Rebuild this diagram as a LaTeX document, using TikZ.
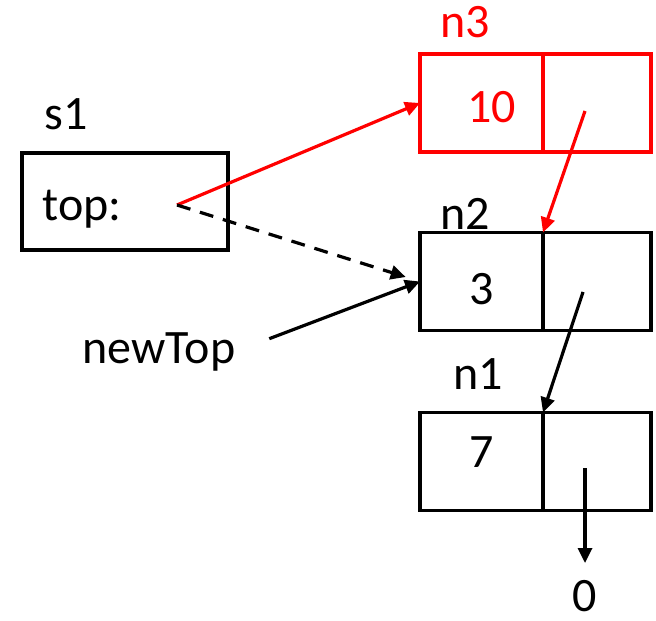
\documentclass[tikz,border=0pt]{standalone}
\usepackage{fontspec}
\setmainfont{Carlito}
\usetikzlibrary{arrows.meta, positioning, calc}

\tikzset{
  cell/.style={draw, line width=1.8pt, inner sep=0pt, outer sep=0pt, minimum height=49pt, text depth=0pt},
  valcell/.style={cell, minimum width=61.5pt},
  ptrcell/.style={cell, minimum width=54pt},
  tag/.style={anchor=base west, inner sep=0pt},
  ptr/.style={line width=1.6pt, -{Triangle[length=7.5pt,width=7pt]}},
}

\begin{document}
\begin{tikzpicture}[x=0.5pt, y=-0.5pt, font=\fontsize{24}{28}\selectfont]
\useasboundingbox (0,0) rectangle (656,620);

% stack record with its top field
\node[draw, line width=1.8pt, minimum width=103pt, minimum height=48.5pt, inner sep=0pt] (s1) at (125,201.5) {};
\node[tag] (s1name) at (44,130) {s1};
\node[tag] (toptxt) at (42,220) {top:};
\coordinate (topptr) at (177,205);

% list nodes: value cell + next cell
\node[valcell, draw=red, text=red, text height=20pt] (n3v) at (481.5,103) {\hspace*{10pt}10};
\node[ptrcell, draw=red, right=0pt of n3v] (n3p) {};
\node[tag, text=red] (n3name) at (440,38) {n3};

\node[valcell, text height=22.5pt] (n2v) at (481.5,281.5) {3};
\node[ptrcell, right=0pt of n2v] (n2p) {};
\node[tag] (n2name) at (440,229) {n2};

\node[valcell, text height=5.5pt] (n1v) at (481.5,461.5) {7};
\node[ptrcell, right=0pt of n1v] (n1p) {};
\node[tag] (n1name) at (453,389) {n1};

\coordinate (n3ptr) at ($(n3p.center)+(-12,8)$);
\coordinate (n2ptr) at ($(n2p.center)+(-14,10.5)$);
\coordinate (n1ptr) at ($(n1p.center)+(-12,6.5)$);
\coordinate (nilend) at (585,563);
\node[anchor=base, inner sep=0pt] (nil) at (585,611) {0};

\node[tag] (newtop) at (82,363) {newTop};

% links
\draw[ptr, red] (topptr) -- (n3v.west);
\draw[ptr, dashed, dash pattern=on 7pt off 5pt, shorten >=7.5pt] (topptr) -- (n2v.west);
\draw[ptr, shorten <=18pt] (newtop.east) -- (n2v.west);
\draw[ptr, red] (n3ptr) -- (n2p.north west);
\draw[ptr] (n2ptr) -- (n1p.north west);
\draw[ptr] (n1ptr) -- (nilend);
\end{tikzpicture}
\end{document}
